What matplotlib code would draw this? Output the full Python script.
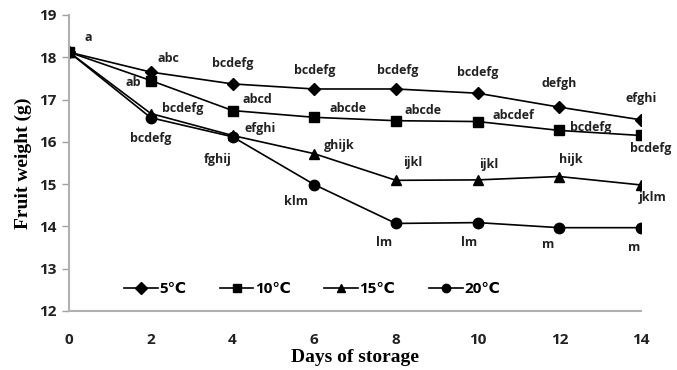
import matplotlib
matplotlib.use("Agg")
import matplotlib.pyplot as plt

plt.rcParams['font.family'] = ['Open Sans', 'DejaVu Sans']

days = [0, 2, 4, 6, 8, 10, 12, 14]
w5 = [18.12, 17.65, 17.37, 17.25, 17.25, 17.15, 16.82, 16.52]
w10 = [18.12, 17.45, 16.74, 16.58, 16.50, 16.48, 16.27, 16.15]
w15 = [18.12, 16.67, 16.15, 15.72, 15.09, 15.10, 15.18, 14.98]
w20 = [18.12, 16.57, 16.12, 14.99, 14.07, 14.09, 13.97, 13.97]

lab5 = ['a', 'abc', 'bcdefg', 'bcdefg', 'bcdefg', 'bcdefg', 'defgh', 'efghi']
lab10 = ['', 'ab', 'abcd', 'abcde', 'abcde', 'abcdef', 'bcdefg', 'bcdefg']
lab15 = ['', 'bcdefg', 'efghi', 'ghijk', 'ijkl', 'ijkl', 'hijk', 'jklm']
lab20 = ['', 'bcdefg', 'fghij', 'klm', 'lm', 'lm', 'm', 'm']

# label offsets in pixels (dx, dy)
off5 = [(19, 15), (18, 14), (0, 20), (0, 18), (2, 18), (0, 21), (0, 24), (0, 21)]
off10 = [None, (-18, -2), (25, 11), (34, 9), (27, 10), (36, 6), (31, 3), (10, -13)]
off15 = [None, (32, 5), (28, 7), (25, 8), (17, 18), (11, 15), (11, 17), (12, -13)]
off20 = [None, (0, -21), (-15, -23), (-18, -17), (-12, -19), (-9, -20), (-11, -17), (-7, -20)]

fig = plt.figure(figsize=(6.77, 3.70), dpi=100)
ax = fig.add_axes([0.102, 0.1595, 0.845, 0.80])

series = [
    (w5, 'D', 6, '5℃', lab5, off5),
    (w10, 's', 6.5, '10℃', lab10, off10),
    (w15, '^', 7, '15℃', lab15, off15),
    (w20, 'o', 7.5, '20℃', lab20, off20),
]

for vals, mk, ms, name, labs, offs in series:
    ax.plot(days, vals, color='black', lw=1.2, marker=mk, ms=ms, label=name)
    for d, v, t, o in zip(days, vals, labs, offs):
        if t and o:
            ax.annotate(t, (d, v), xytext=o, textcoords='offset pixels',
                        ha='center', va='center', fontsize=9, fontweight='bold',
                        color='#222222')

ax.set_xlim(0, 14)
ax.set_ylim(12, 19)
ax.set_xticks(days)
ax.set_yticks(range(12, 20))
ax.tick_params(axis='x', length=0, pad=16, labelsize=11, colors='#222222')
ax.tick_params(axis='y', length=5, width=1, color='#a0a0a0', pad=4,
               labelsize=11, labelcolor='#222222')
for lb in ax.get_xticklabels() + ax.get_yticklabels():
    lb.set_fontweight('bold')

for s in ['top', 'right']:
    ax.spines[s].set_visible(False)
for s in ['left', 'bottom']:
    ax.spines[s].set_color('#b0b0b0')
    ax.spines[s].set_linewidth(1.5)

ax.set_xlabel('Days of storage', family='Liberation Serif', fontweight='bold',
              fontsize=14, labelpad=1)
ax.set_ylabel('Fruit weight (g)', family='Liberation Serif', fontweight='bold',
              fontsize=14, labelpad=5)

leg = fig.legend(loc='center', bbox_to_anchor=(312 / 677, 1 - 289 / 370), ncol=4,
                 frameon=False, handlelength=2.2, columnspacing=2.2,
                 handletextpad=0.1, prop={'size': 11, 'weight': 'bold'})
for h in leg.legend_handles:
    h.set_markersize(6)

fig.savefig('out.png', dpi=100)
